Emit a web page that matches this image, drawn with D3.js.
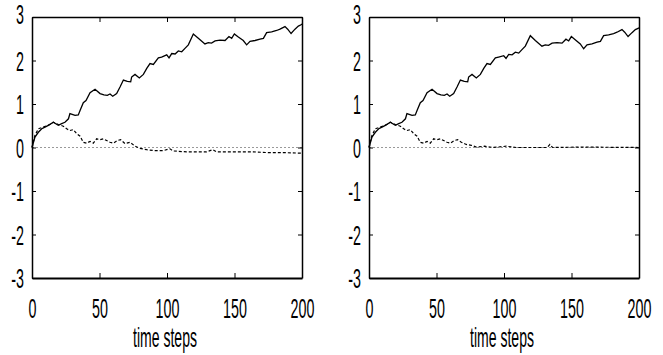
<!DOCTYPE html>
<html>
<head>
<meta charset="utf-8">
<script src="https://cdn.jsdelivr.net/npm/d3@7"></script>
<style>
  body { margin: 0; background: #fff; }
  .axis text { font-family: "Liberation Sans", Arial, sans-serif; font-size: 27px; fill: #000; }
  .axis path, .axis line { stroke: #000; }
</style>
</head>
<body>
<div id="chart"></div>
<script>
// values: [time step, value]
const solidLeft = [[0,0],[2.2,0.24],[4.7,0.35],[7.2,0.43],[9.6,0.47],[12.1,0.51],[15.8,0.58],[19.5,0.51],[22,0.55],
  [24.4,0.58],[27,0.66],[28.1,0.78],[31.9,0.74],[34.3,0.75],[35.6,0.85],[38,1.03],[40,1.08],[43,1.26],[46.7,1.34],
  [50.4,1.24],[53.3,1.21],[55.8,1.2],[57.8,1.23],[59.8,1.18],[62.7,1.24],[65.2,1.39],[67.7,1.55],[70.6,1.52],
  [73.1,1.51],[73.8,1.62],[76.3,1.68],[79.5,1.6],[82.5,1.68],[85,1.82],[87.4,1.93],[89.9,1.91],[93.6,2.06],[96,2.08],
  [99.8,2.13],[101.5,2.06],[103.5,2.16],[106,2.15],[108.4,2.22],[110.9,2.2],[113.3,2.28],[115.8,2.36],[119.5,2.61],
  [123.2,2.51],[128.1,2.38],[130.6,2.41],[133,2.4],[135.6,2.45],[139.3,2.47],[143,2.46],[145.9,2.55],[147.9,2.51],
  [149.9,2.61],[152.3,2.55],[156.5,2.46],[159,2.36],[161.5,2.44],[165.2,2.46],[168.9,2.49],[171.4,2.51],[173.8,2.64],
  [177.5,2.66],[181.2,2.69],[183.7,2.72],[187.4,2.78],[189.4,2.72],[191.9,2.62],[194.8,2.72],[197.3,2.79],[199.3,2.82],[200,2.84]];

const dashedLeft = [[0,0],[2.2,0.28],[4.7,0.43],[8.4,0.47],[13.3,0.53],[15.8,0.58],[19.5,0.53],[23.2,0.49],[25.7,0.43],
  [28.1,0.39],[30.6,0.41],[33.1,0.32],[35.6,0.26],[38,0.12],[40.5,0.1],[43,0.14],[45.4,0.1],[47.9,0.2],[50.4,0.18],
  [52.8,0.2],[55.3,0.16],[57.8,0.12],[60.2,0.1],[63.2,0.16],[65.7,0.18],[68.9,0.09],[72.6,0.12],[76.3,0.03],
  [80,-0.02],[85,-0.05],[89.9,-0.07],[97.3,-0.07],[102.2,-0.03],[104.7,-0.08],[114.6,-0.1],[129.4,-0.1],[133.8,-0.05],
  [136.8,-0.1],[151.6,-0.1],[164,-0.1],[176,-0.12],[188.6,-0.12],[200,-0.13]];

const solidRight = [[0,0],[2.2,0.24],[4.7,0.35],[7.2,0.43],[9.6,0.47],[12.1,0.51],[15.8,0.58],[19.5,0.51],[22,0.55],
  [24.4,0.58],[27,0.66],[28.1,0.78],[31.9,0.74],[34.3,0.75],[35.6,0.85],[38,1.03],[40,1.08],[43,1.26],[46.7,1.34],
  [50.4,1.24],[53.3,1.21],[55.8,1.2],[57.8,1.23],[59.8,1.18],[62.7,1.24],[65.2,1.39],[67.7,1.55],[70.6,1.52],
  [73.1,1.51],[73.8,1.62],[76.3,1.68],[79.5,1.6],[82.5,1.68],[85,1.82],[87.4,1.93],[89.9,1.91],[93.6,2.06],[96,2.08],
  [99.8,2.11],[101.5,2.05],[103.5,2.14],[106,2.13],[108.4,2.19],[110.9,2.17],[113.3,2.25],[115.8,2.33],[119.5,2.57],
  [123.2,2.46],[128.1,2.33],[130.6,2.36],[133,2.35],[135.6,2.4],[139.3,2.41],[143,2.4],[145.9,2.49],[147.9,2.45],
  [149.9,2.55],[152.3,2.49],[156.5,2.38],[159,2.27],[161.5,2.36],[165.2,2.38],[168.9,2.42],[171.4,2.44],[173.8,2.57],
  [177.5,2.59],[181.2,2.62],[183.7,2.65],[187.4,2.71],[189.4,2.65],[191.9,2.55],[194.8,2.64],[197.3,2.71],[199.3,2.74],[200,2.75]];

const dashedRight = [[0,0],[2.2,0.28],[4.7,0.43],[8.4,0.47],[13.3,0.53],[15.8,0.58],[19.5,0.53],[23.2,0.49],[25.7,0.43],
  [28.1,0.39],[30.6,0.41],[33.1,0.32],[35.6,0.26],[38,0.12],[40.5,0.1],[43,0.14],[45.4,0.1],[47.9,0.2],[50.4,0.18],
  [52.8,0.2],[55.3,0.16],[57.8,0.12],[60.2,0.1],[63.2,0.16],[65.7,0.18],[68.4,0.12],[72,0.07],[75.8,0.05],[79.5,0.01],
  [85.7,0.03],[92,0],[101.7,0.03],[109,0],[121,0],[132,0],[134,0.07],[136,0],[158,0.01],[200,0]];

const xTicks = [0, 50, 100, 150, 200];
const yTicks = [-3, -2, -1, 0, 1, 2, 3];
const xLabel = "time steps";

const width = 663, height = 355;
const plotTop = 17, plotBottom = 278;

const svg = d3.select("#chart").append("svg")
  .attr("width", width)
  .attr("height", height);

function drawPanel(left, right, solid, dashed) {
  const x = d3.scaleLinear().domain([0, 200]).range([left, right]);
  const y = d3.scaleLinear().domain([-3, 3]).range([plotBottom, plotTop]);
  const g = svg.append("g");

  // dotted zero line
  g.append("line")
    .attr("x1", x(0)).attr("x2", x(200))
    .attr("y1", y(0)).attr("y2", y(0))
    .attr("stroke", "#999")
    .attr("stroke-width", 1)
    .attr("stroke-dasharray", "2,2");

  const line = d3.line().x(d => x(d[0])).y(d => y(d[1]));

  g.append("path")
    .datum(dashed)
    .attr("d", line)
    .attr("fill", "none")
    .attr("stroke", "#000")
    .attr("stroke-width", 1.2)
    .attr("stroke-dasharray", "3,2");

  g.append("path")
    .datum(solid)
    .attr("d", line)
    .attr("fill", "none")
    .attr("stroke", "#000")
    .attr("stroke-width", 1.3);

  // bottom axis, ticks pointing in
  const xb = g.append("g")
    .attr("class", "axis")
    .attr("transform", `translate(0,${plotBottom})`)
    .call(d3.axisBottom(x).tickValues(xTicks).tickSizeInner(-5).tickSizeOuter(0).tickFormat(d => String(d)));
  xb.select(".domain").attr("stroke-width", 1.8);
  xb.selectAll("text")
    .attr("y", 40).attr("dy", null)
    .attr("transform", "scale(0.53,1)");

  // top axis, no labels
  const xt = g.append("g")
    .attr("class", "axis")
    .attr("transform", `translate(0,${plotTop})`)
    .call(d3.axisTop(x).tickValues(xTicks).tickSizeInner(-5).tickSizeOuter(0).tickFormat(""));
  xt.select(".domain").attr("stroke-width", 1.5);

  // left axis, plain hyphen for negatives
  const yl = g.append("g")
    .attr("class", "axis")
    .attr("transform", `translate(${left},0)`)
    .call(d3.axisLeft(y).tickValues(yTicks).tickSizeInner(-4).tickSizeOuter(0).tickFormat(d => String(d)));
  yl.select(".domain").attr("stroke-width", 1.5);
  yl.selectAll("text")
    .attr("x", 0)
    .attr("dy", d => d === 3 ? "0.24em" : "0.36em")
    .attr("transform", "translate(-8,0) scale(0.53,1)");

  // right axis, no labels
  const yr = g.append("g")
    .attr("class", "axis")
    .attr("transform", `translate(${right},0)`)
    .call(d3.axisRight(y).tickValues(yTicks).tickSizeInner(-4).tickSizeOuter(0).tickFormat(""));
  yr.select(".domain").attr("stroke-width", 1.5);

  g.append("text")
    .attr("class", "axis")
    .attr("transform", `translate(${(left + right) / 2 - 2},347) scale(0.52,1)`)
    .attr("text-anchor", "middle")
    .style("font-family", "'Liberation Sans', Arial, sans-serif")
    .style("font-size", "27px")
    .text(xLabel);
}

drawPanel(32, 302, solidLeft, dashedLeft);
drawPanel(369, 639, solidRight, dashedRight);
</script>
</body>
</html>
